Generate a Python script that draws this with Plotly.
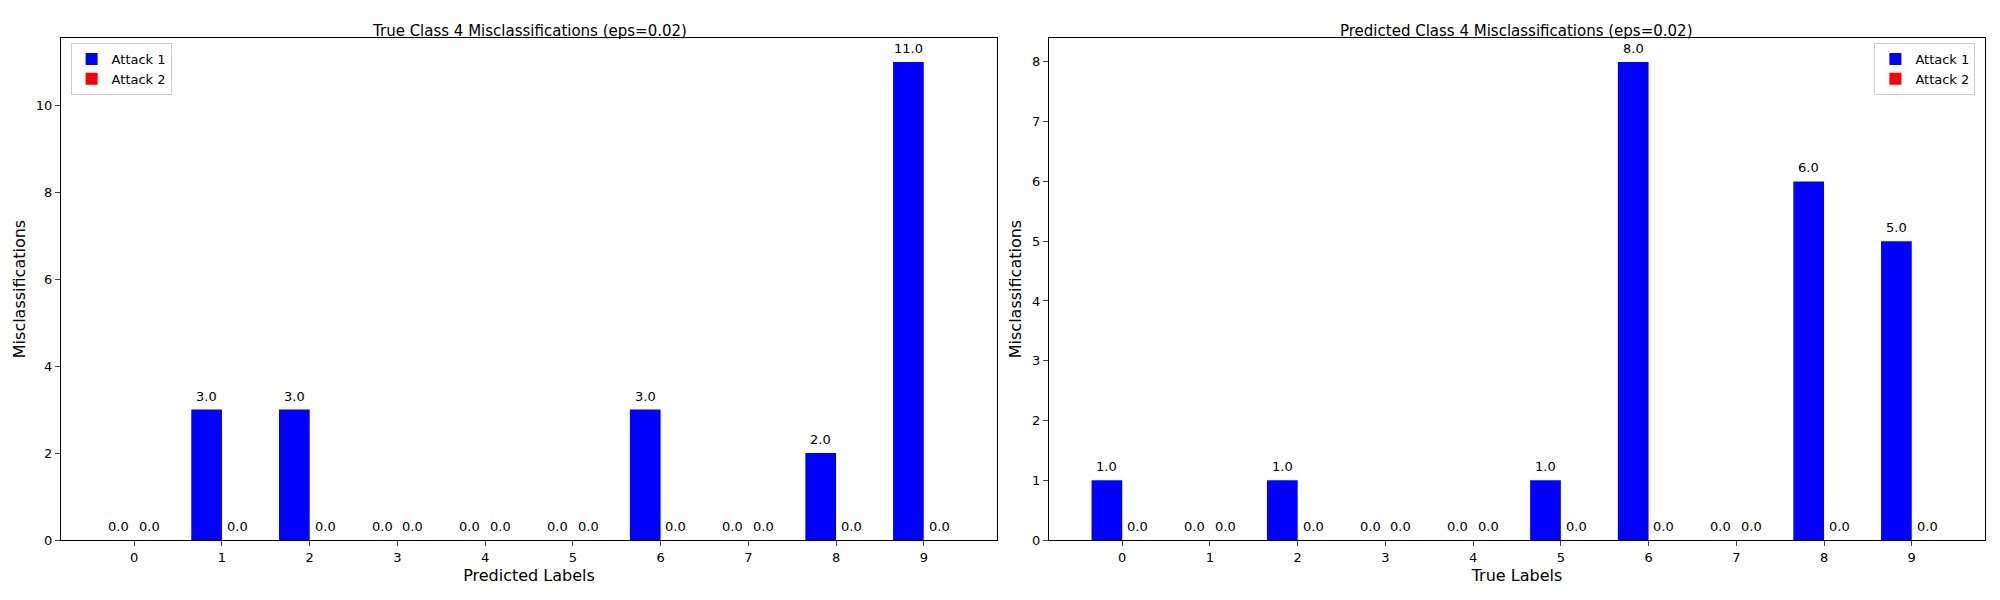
import plotly.graph_objects as go
from plotly.subplots import make_subplots

labels = list(range(10))
true4_attack1 = [0, 3, 3, 0, 0, 0, 3, 0, 2, 11]
true4_attack2 = [0, 0, 0, 0, 0, 0, 0, 0, 0, 0]
pred4_attack1 = [1, 0, 1, 0, 0, 1, 8, 0, 6, 5]
pred4_attack2 = [0, 0, 0, 0, 0, 0, 0, 0, 0, 0]

W = 0.35
fig = make_subplots(rows=1, cols=2, horizontal_spacing=0.027,
                    subplot_titles=["True Class 4 Misclassifications (eps=0.02)",
                                    "Predicted Class 4 Misclassifications (eps=0.02)"])
fig.update_annotations(font=dict(size=15, color="black"), yshift=-4)

panels = [(1, true4_attack1, true4_attack2, "legend"),
          (2, pred4_attack1, pred4_attack2, "legend2")]
for col, a1, a2, leg in panels:
    x1 = [l - W / 2 for l in labels]
    x2 = [l + W / 2 for l in labels]
    fig.add_trace(go.Bar(x=x1, y=a1, width=W, name="Attack 1",
                         marker_color="blue", legend=leg), row=1, col=col)
    fig.add_trace(go.Bar(x=x2, y=a2, width=W, name="Attack 2",
                         marker_color="red", legend=leg), row=1, col=col)
    for xs, vals in [(x1, a1), (x2, a2)]:
        for xv, v in zip(xs, vals):
            fig.add_annotation(x=xv, y=v, text=f"{v:.1f}", showarrow=False,
                               yanchor="bottom", yshift=4, font=dict(size=13, color="black"),
                               row=1, col=col)

ax = dict(showline=True, linecolor="black", mirror=True, ticks="outside", showgrid=False,
          zeroline=False, tickfont=dict(size=13, color="black"))
fig.update_xaxes(**ax, range=[-0.835, 9.835], tickvals=labels)
fig.update_yaxes(**ax)
fig.update_xaxes(title_text="Predicted Labels", title_standoff=6, row=1, col=1)
fig.update_xaxes(title_text="True Labels", title_standoff=6, row=1, col=2)
fig.update_yaxes(title_text="Misclassifications", title_standoff=6, range=[0, 11.55], dtick=2, row=1, col=1)
fig.update_yaxes(title_text="Misclassifications", title_standoff=6, range=[0, 8.4], dtick=1, row=1, col=2)

fig.update_layout(
    width=2000, height=600, template="none", plot_bgcolor="white", paper_bgcolor="white",
    font=dict(family="DejaVu Sans", size=13, color="black"),
    margin=dict(l=53, r=23, t=30, b=68, autoexpand=False), barmode="overlay",
    legend=dict(x=0.005, y=0.99, xanchor="left", yanchor="top",
                bordercolor="#ccc", borderwidth=1, font=dict(size=13)),
    legend2=dict(x=0.995, y=0.99, xanchor="right", yanchor="top",
                 bordercolor="#ccc", borderwidth=1, font=dict(size=13)),
)
fig.write_html("out.html")
